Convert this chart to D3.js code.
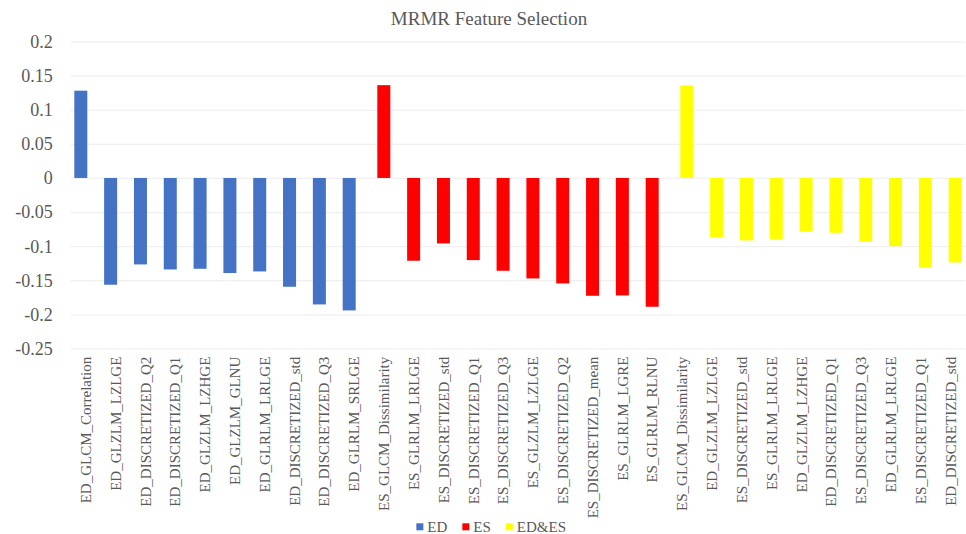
<!DOCTYPE html>
<html>
<head>
<meta charset="utf-8">
<script src="https://cdn.jsdelivr.net/npm/d3@7"></script>
<style>
  html, body { margin: 0; padding: 0; background: #fff; }
  svg text { font-family: 'Liberation Serif', 'Times New Roman', Times, 'DejaVu Serif', serif !important; }
</style>
</head>
<body>
<svg id="chart" width="966" height="534"></svg>
<script>
const title = "MRMR Feature Selection";
const seriesNames = ["ED", "ES", "ED&ES"];
const seriesColors = ["#4472C4", "#FF0000", "#FFFF00"];

const edLabels = ["ED_GLCM_Correlation", "ED_GLZLM_LZLGE", "ED_DISCRETIZED_Q2", "ED_DISCRETIZED_Q1", "ED_GLZLM_LZHGE", "ED_GLZLM_GLNU", "ED_GLRLM_LRLGE", "ED_DISCRETIZED_std", "ED_DISCRETIZED_Q3", "ED_GLRLM_SRLGE"];
const edValues = [0.128, -0.1566, -0.1268, -0.1342, -0.1332, -0.1395, -0.1371, -0.1596, -0.1855, -0.1943];

const esLabels = ["ES_GLCM_Dissimilarity", "ES_GLRLM_LRLGE", "ES_DISCRETIZED_std", "ES_DISCRETIZED_Q1", "ES_DISCRETIZED_Q3", "ES_GLZLM_LZLGE", "ES_DISCRETIZED_Q2", "ES_DISCRETIZED_mean", "ES_GLRLM_LGRE", "ES_GLRLM_RLNU"];
const esValues = [0.1361, -0.1214, -0.096, -0.1205, -0.1361, -0.1474, -0.1547, -0.1728, -0.1723, -0.1889];

const bothLabels = ["ES_GLCM_Dissimilarity", "ED_GLZLM_LZLGE", "ES_DISCRETIZED_std", "ES_GLRLM_LRLGE", "ED_GLZLM_LZHGE", "ED_DISCRETIZED_Q1", "ES_DISCRETIZED_Q3", "ED_GLRLM_LRLGE", "ES_DISCRETIZED_Q1", "ED_DISCRETIZED_std"];
const bothValues = [0.1356, -0.0872, -0.0916, -0.0897, -0.0789, -0.0804, -0.0936, -0.1, -0.1312, -0.1239];

const yTicks = [0.2, 0.15, 0.1, 0.05, 0, -0.05, -0.1, -0.15, -0.2, -0.25];

// build table
const groups = [[edLabels, edValues], [esLabels, esValues], [bothLabels, bothValues]];
const rows = [];
groups.forEach(([labs, vals], s) => {
  labs.forEach((l, i) => rows.push({ idx: rows.length, label: l, value: vals[i], series: seriesNames[s] }));
});

const svg = d3.select("#chart");
const plot = { left: 70.7, right: 965.3, top: 41.6, bottom: 348.4 };

const x = d3.scaleBand().domain(rows.map(d => d.idx)).range([plot.left, plot.right]).paddingInner(0).paddingOuter(0);
const xs = d3.scalePoint().domain(seriesNames).range([-4.8, 4.8]);
const color = d3.scaleOrdinal().domain(seriesNames).range(seriesColors);
const y = d3.scaleLinear().domain([-0.25, 0.2]).range([plot.bottom, plot.top]);
const barW = 13;
const textColor = "#595959";

// title
svg.append("text")
  .attr("x", 489).attr("y", 25)
  .attr("text-anchor", "middle")
  .attr("font-size", 19)
  .attr("fill", textColor)
  .text(title);

// y axis with gridlines
const yAxis = svg.append("g")
  .attr("transform", `translate(${plot.left},0)`)
  .call(d3.axisLeft(y).tickValues(yTicks).tickSize(-(plot.right - plot.left)).tickPadding(18)
    .tickFormat(d => String(+d.toFixed(2))));
yAxis.select(".domain").remove();
yAxis.selectAll(".tick line").attr("stroke", "#f0f0f0").attr("stroke-width", 1.3);
yAxis.selectAll(".tick text")
  .attr("font-size", 18)
  .attr("fill", textColor)
  .attr("dy", "0.33em");

// bars
svg.append("g").selectAll("rect")
  .data(rows)
  .join("rect")
  .attr("x", d => x(d.idx) + x.bandwidth() / 2 + xs(d.series) - barW / 2)
  .attr("width", barW)
  .attr("y", d => y(Math.max(0, d.value)))
  .attr("height", d => Math.abs(y(d.value) - y(0)))
  .attr("fill", d => color(d.series));

// x labels
const xAxis = svg.append("g")
  .attr("transform", `translate(0,${plot.bottom})`)
  .call(d3.axisBottom(x).tickSize(0).tickFormat(i => rows[i].label));
xAxis.select(".domain").remove();
xAxis.selectAll(".tick text")
  .attr("transform", "rotate(-90)")
  .attr("x", -8.3)
  .attr("y", 0)
  .attr("dy", "0.35em")
  .attr("text-anchor", "end")
  .attr("font-size", 15)
  .attr("fill", textColor);

// legend
const legend = svg.append("g");
let cx = 0;
seriesNames.forEach((name, i) => {
  const g = legend.append("g");
  g.append("rect").attr("x", 0).attr("y", -8.4).attr("width", 7).attr("height", 7).attr("fill", seriesColors[i]);
  const t = g.append("text").attr("x", 11).attr("y", 0).attr("font-size", 15).attr("fill", textColor).text(name);
  const w = 11 + t.node().getComputedTextLength();
  g.attr("transform", `translate(${cx},0)`);
  cx += w + 15;
});
const totalW = cx - 15;
legend.attr("transform", `translate(${491.2 - totalW / 2},531.7)`);
</script>
</body>
</html>
